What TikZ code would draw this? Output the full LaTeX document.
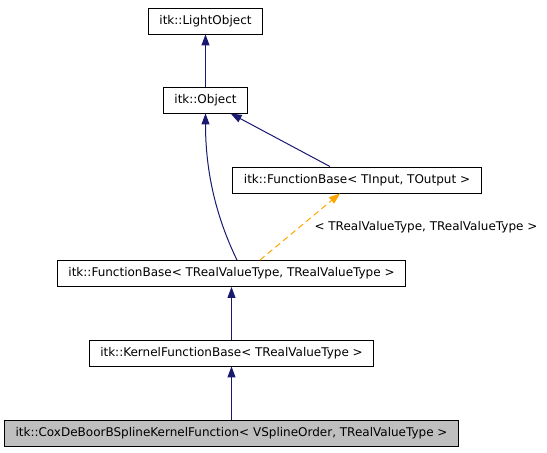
\documentclass[tikz,border=0pt]{standalone}
\usepackage{fontspec}
\setmainfont{DejaVu Sans}
\usetikzlibrary{arrows.meta}
\definecolor{edgeblue}{HTML}{191970}
\definecolor{tmplorange}{HTML}{FFA500}
\definecolor{curgrey}{HTML}{BFBFBF}
\tikzset{
  classbox/.style={draw=black, fill=white, line width=0.9pt, minimum height=26pt,
    inner xsep=11pt, inner ysep=0pt, font=\fontsize{12}{14}\selectfont},
  inherit/.style={draw=edgeblue, line width=1pt, -{Triangle[length=11pt,width=8pt]}},
  tmpl/.style={draw=tmplorange, line width=1pt, dash pattern=on 6pt off 4pt,
    -{Triangle[length=11pt,width=8pt]}}
}
\begin{document}
\begin{tikzpicture}[x=1pt, y=1pt]
\useasboundingbox (0,0) rectangle (547,453);

% Classes
\node[classbox] (lightobj) at (205.5, 432) {itk::LightObject};
\node[classbox] (obj) at (205.5, 353) {itk::Object};
\node[classbox] (fbin) at (357, 273) {itk::FunctionBase< TInput, TOutput >};
\node[classbox] (fbreal) at (231.5, 179.5) {itk::FunctionBase< TRealValueType, TRealValueType >};
\node[classbox] (kernel) at (231.5, 100) {itk::KernelFunctionBase< TRealValueType >};
\node[classbox, fill=curgrey] (coxdeboor) at (231.5, 20) {itk::CoxDeBoorBSplineKernelFunction< VSplineOrder, TRealValueType >};

% Inheritance
\draw[inherit] (obj) -- (lightobj);
\draw[inherit] ([xshift=-27pt]fbin.north) -- (obj);
\draw[inherit] ([xshift=5.5pt]fbreal.north) .. controls (220,228) and (205.5,273) .. (obj.south);
\draw[inherit] (kernel) -- (fbreal);
\draw[inherit] (coxdeboor) -- (kernel);

% Template instance
\draw[tmpl] ([xshift=28.5pt]fbreal.north) -- ([xshift=-17pt]fbin.south);
\node[font=\fontsize{12}{14}\selectfont, anchor=west] (tparams) at (311, 226) {< TRealValueType, TRealValueType >};
\end{tikzpicture}
\end{document}
